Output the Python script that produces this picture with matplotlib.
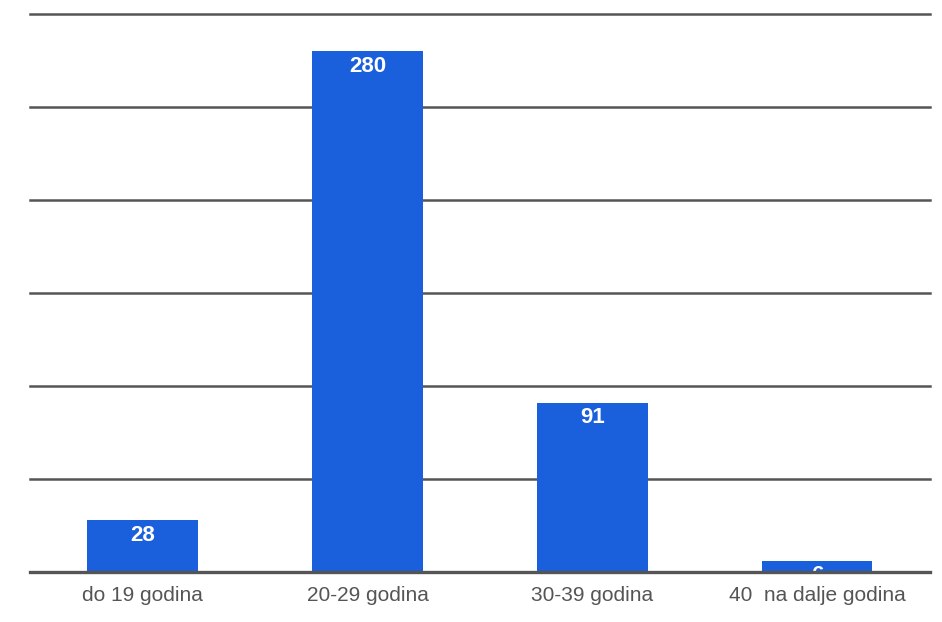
import matplotlib.pyplot as plt

plt.rcParams['font.family'] = ['Liberation Sans', 'DejaVu Sans']

categories = ["do 19 godina", "20-29 godina", "30-39 godina", "40  na dalje godina"]
values = [28, 280, 91, 6]
grid_ticks = [0, 50, 100, 150, 200, 250, 300]

fig = plt.figure(figsize=(9.42, 6.22), dpi=100)
ax = fig.add_axes([0.032, 0.0804, 0.955, 0.8971])

bars = ax.bar(range(len(categories)), values, width=0.49, color="#1a60dc", zorder=3)

for b, v in zip(bars, values):
    ax.text(b.get_x() + b.get_width() / 2, v - 2.5, str(v), ha="center", va="top",
            color="white", fontsize=16, fontweight="bold", zorder=4, clip_on=True)

ax.set_xlim(-0.5, 3.5)
ax.set_ylim(0, 300)
ax.set_yticks(grid_ticks)
ax.yaxis.grid(True, color="#555555", linewidth=1.8, zorder=0)
for gl in ax.get_ygridlines():
    gl.set_clip_on(False)
ax.tick_params(axis="y", length=0, labelleft=False)
ax.tick_params(axis="x", length=0, pad=10)
ax.set_xticks(range(len(categories)))
ax.set_xticklabels(categories, fontsize=15, color="#555555")
for s in ax.spines.values():
    s.set_visible(False)
ax.axhline(0, color="#555555", linewidth=2.4, zorder=5, clip_on=False)

fig.savefig("out.png", dpi=100)
